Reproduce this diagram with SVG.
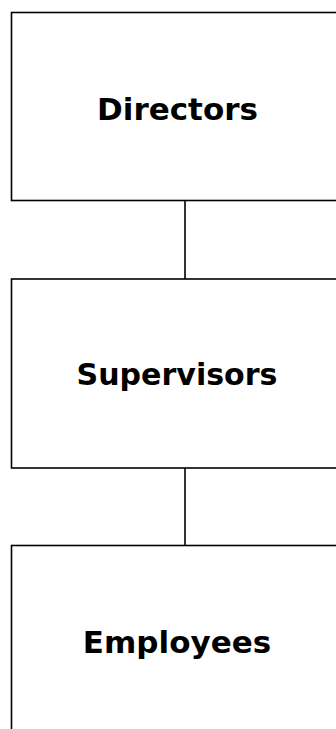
<svg xmlns="http://www.w3.org/2000/svg" width="336" height="729" viewBox="0 0 336 729">
<style>
.box{fill:#fff;stroke:#000;stroke-width:1.6}
.lbl{font-family:"DejaVu Sans",sans-serif;font-weight:bold;font-size:31px;fill:#000;text-anchor:middle}
.con{stroke:#000;stroke-width:1.6;fill:none}
</style>
<rect width="336" height="729" fill="#fff"/>
<g id="connectors">
<line class="con" x1="185" y1="200.5" x2="185" y2="279"/>
<line class="con" x1="185" y1="468" x2="185" y2="545.5"/>
</g>
<g id="directors">
<rect class="box" x="11.5" y="12.5" width="348" height="188"/>
<text class="lbl" x="177.5" y="120">Directors</text>
</g>
<g id="supervisors">
<rect class="box" x="11.5" y="279" width="348" height="189"/>
<text class="lbl" x="177" y="385" textLength="201" lengthAdjust="spacingAndGlyphs">Supervisors</text>
</g>
<g id="employees">
<rect class="box" x="11.5" y="545.5" width="348" height="300"/>
<text class="lbl" x="177" y="653">Employees</text>
</g>
</svg>
